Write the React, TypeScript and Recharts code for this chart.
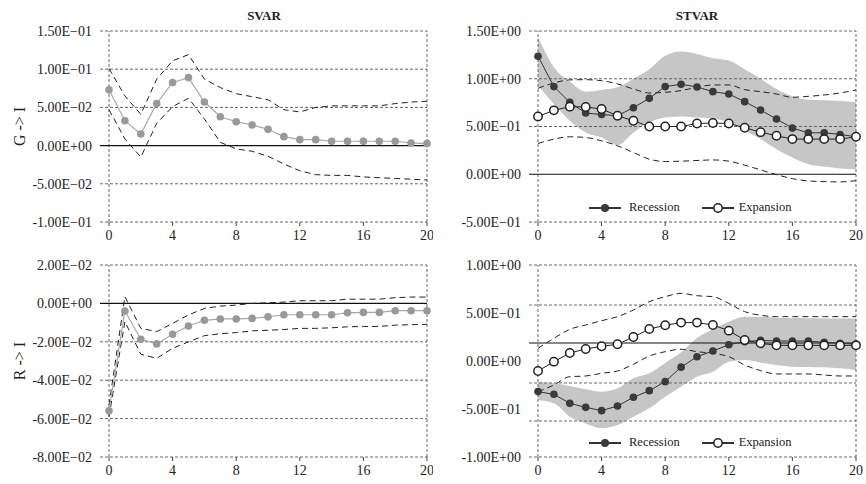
import React from "react";
import {
  ComposedChart,
  Line,
  Area,
  XAxis,
  YAxis,
  ReferenceLine,
  Legend,
} from "recharts";

const FONT = '"Liberation Serif", "Times New Roman", serif';

const horizon = [0, 1, 2, 3, 4, 5, 6, 7, 8, 9, 10, 11, 12, 13, 14, 15, 16, 17, 18, 19, 20];
const xTicks = [0, 4, 8, 12, 16, 20];

// SVAR, G -> I
const giMid = [0.073, 0.0326, 0.0152, 0.0552, 0.0826, 0.089, 0.057, 0.0378, 0.0313, 0.027, 0.0213, 0.0117, 0.0078, 0.0078, 0.0057, 0.0057, 0.0057, 0.0057, 0.0057, 0.0035, 0.0026];
const giHi = [0.101, 0.065, 0.041, 0.087, 0.111, 0.119, 0.087, 0.076, 0.068, 0.064, 0.06, 0.047, 0.044, 0.05, 0.052, 0.052, 0.052, 0.052, 0.055, 0.057, 0.058];
const giLo = [0.047, 0.0087, -0.015, 0.029, 0.051, 0.062, 0.035, 0.0043, -0.0043, -0.0074, -0.014, -0.024, -0.033, -0.038, -0.039, -0.039, -0.041, -0.042, -0.043, -0.044, -0.045];
const giTicks = [-0.1, -0.05, 0, 0.05, 0.1, 0.15];

// SVAR, R -> I
const riMid = [-0.0559, -0.004, -0.0187, -0.0211, -0.0161, -0.0118, -0.0088, -0.0081, -0.0081, -0.0078, -0.007, -0.0059, -0.0059, -0.0059, -0.0059, -0.0049, -0.0047, -0.0047, -0.0038, -0.0038, -0.0038];
const riHi = [-0.053, 0.0035, -0.013, -0.0147, -0.0104, -0.006, -0.0026, -0.0014, -0.0009, 0, 0.0003, 0.0007, 0.0014, 0.0014, 0.0014, 0.0022, 0.0022, 0.0022, 0.003, 0.0033, 0.0033];
const riLo = [-0.059, -0.0095, -0.0265, -0.0286, -0.0234, -0.02, -0.0168, -0.0158, -0.0152, -0.0143, -0.014, -0.0136, -0.013, -0.013, -0.0127, -0.0122, -0.012, -0.012, -0.0113, -0.0111, -0.0109];
const riTicks = [-0.08, -0.06, -0.04, -0.02, 0, 0.02];

// STVAR, G -> I
const gRec = [1.236, 0.918, 0.753, 0.641, 0.625, 0.613, 0.697, 0.795, 0.918, 0.942, 0.914, 0.865, 0.84, 0.76, 0.672, 0.578, 0.483, 0.434, 0.434, 0.417, 0.392];
const gExp = [0.606, 0.669, 0.708, 0.704, 0.683, 0.613, 0.56, 0.5, 0.5, 0.5, 0.532, 0.536, 0.532, 0.487, 0.441, 0.403, 0.368, 0.368, 0.368, 0.368, 0.392];
const gRecHi = [1.436, 1.12, 0.97, 0.865, 0.883, 0.91, 1.0, 1.1, 1.24, 1.285, 1.26, 1.215, 1.19, 1.1, 1.0, 0.893, 0.816, 0.78, 0.774, 0.767, 0.753];
const gRecLo = [0.928, 0.736, 0.56, 0.438, 0.385, 0.305, 0.438, 0.543, 0.595, 0.606, 0.595, 0.585, 0.543, 0.455, 0.368, 0.263, 0.175, 0.105, 0.08, 0.06, 0.053];
const gExpHi = [0.9, 0.956, 0.988, 0.99, 0.98, 0.946, 0.893, 0.851, 0.858, 0.876, 0.911, 0.935, 0.935, 0.886, 0.865, 0.84, 0.806, 0.816, 0.83, 0.851, 0.883];
const gExpLo = [0.322, 0.368, 0.392, 0.385, 0.35, 0.298, 0.228, 0.158, 0.133, 0.137, 0.144, 0.15, 0.137, 0.095, 0.046, -0.004, -0.046, -0.07, -0.077, -0.08, -0.067];
const gTicks = [-0.5, 0, 0.5, 1, 1.5];

// STVAR, R -> I
const rRec = [-0.319, -0.347, -0.441, -0.483, -0.517, -0.469, -0.378, -0.309, -0.215, -0.064, 0.045, 0.104, 0.17, 0.201, 0.215, 0.208, 0.208, 0.208, 0.194, 0.184, 0.177];
const rExp = [-0.104, -0.007, 0.083, 0.125, 0.153, 0.174, 0.25, 0.333, 0.372, 0.4, 0.4, 0.375, 0.316, 0.219, 0.184, 0.163, 0.163, 0.163, 0.163, 0.163, 0.163];
const rRecHi = [-0.215, -0.233, -0.26, -0.295, -0.32, -0.285, -0.18, -0.128, -0.02, 0.09, 0.24, 0.33, 0.41, 0.462, 0.462, 0.45, 0.447, 0.445, 0.444, 0.444, 0.444];
const rRecLo = [-0.406, -0.441, -0.58, -0.65, -0.7, -0.667, -0.58, -0.493, -0.372, -0.267, -0.163, -0.111, -0.007, 0.01, -0.017, -0.042, -0.059, -0.062, -0.066, -0.076, -0.094];
const rExpHi = [0.132, 0.236, 0.33, 0.375, 0.42, 0.462, 0.531, 0.618, 0.67, 0.705, 0.68, 0.67, 0.6, 0.514, 0.476, 0.462, 0.462, 0.462, 0.462, 0.462, 0.462];
const rExpLo = [-0.32, -0.25, -0.163, -0.156, -0.128, -0.104, -0.035, 0.052, 0.097, 0.122, 0.097, 0.08, 0.045, -0.042, -0.1, -0.135, -0.135, -0.135, -0.146, -0.156, -0.156];
const rTicks = [-1, -0.5, 0, 0.5, 1];
// the dashed grid of this panel does not sit on its tick labels in the original
const rGrid = [1, 0.583, -0.229, -0.625, -1];
const rZero = 0.1875;

const sci = (v: number) => {
  if (v === 0) return "0.00E+00";
  const e = Math.floor(Math.log10(Math.abs(v)) + 1e-9);
  const m = v / Math.pow(10, e);
  return `${m.toFixed(2)}E${e < 0 ? "\u2212" : "+"}${String(Math.abs(e)).padStart(2, "0")}`;
};

const yLabel = (text: string) => (props: any) => {
  const vb = props.viewBox || { y: 0, height: 0 };
  const cy = vb.y + vb.height / 2;
  return (
    <text
      x={19}
      y={cy}
      transform={`rotate(-90 19 ${cy})`}
      textAnchor="middle"
      dominantBaseline="central"
      fontSize={16}
      fontFamily={FONT}
      style={{ fontFamily: FONT }}
      fill="#222"
    >
      {text}
    </text>
  );
};

const gridLine = { stroke: "#666", strokeDasharray: "3 2", strokeWidth: 1 };
const tickStyle = { fill: "#222", fontSize: 14, fontFamily: FONT, style: { fontFamily: FONT } };

const LegendBox = () => (
  <div style={{ display: "flex", alignItems: "center", fontSize: 12.5, fontFamily: FONT, color: "#222", whiteSpace: "nowrap" }}>
    <svg width={32} height={12}>
      <line x1={0} y1={6} x2={32} y2={6} stroke="#333" strokeWidth={2} />
      <circle cx={16} cy={6} r={4} fill="#3a3a3a" />
    </svg>
    <span style={{ marginLeft: 8 }}>Recession</span>
    <svg width={32} height={12} style={{ marginLeft: 22 }}>
      <line x1={0} y1={6} x2={32} y2={6} stroke="#333" strokeWidth={2} />
      <circle cx={16} cy={6} r={4.2} fill="#fff" stroke="#222" strokeWidth={1.5} />
    </svg>
    <span style={{ marginLeft: 5 }}>Expansion</span>
  </div>
);

type PanelProps = {
  left: number;
  top: number;
  height: number;
  marginTop: number;
  right: boolean;
  data: any[];
  ticks: number[];
  grid: number[];
  zero: number;
  label?: string;
  legendTop?: number;
  svar: boolean;
};

function Panel(p: PanelProps) {
  const domain = [p.ticks[0], p.ticks[p.ticks.length - 1]];
  return (
    <div style={{ position: "absolute", left: p.left, top: p.top, fontFamily: FONT }}>
      <ComposedChart
        width={433}
        height={p.height}
        data={p.data}
        margin={{ top: p.marginTop, right: p.right ? 10 : 6, bottom: 0, left: 0 }}
        style={{ fontFamily: FONT }}
      >
        <XAxis
          dataKey="h"
          type="number"
          domain={[0, 20]}
          ticks={xTicks}
          padding={{ left: 9, right: 0 }}
          height={p.height - p.marginTop - (p.top === 0 ? 191 : 192)}
          axisLine={false}
          tickSize={4}
          tickMargin={4}
          tickLine={{ stroke: "#444" }}
          tick={tickStyle}
          interval={0}
        />
        <YAxis
          type="number"
          domain={domain}
          ticks={p.ticks}
          width={p.right ? 96 : 100}
          axisLine={false}
          tickLine={false}
          tick={tickStyle}
          tickFormatter={sci}
          interval={0}
          allowDataOverflow
          label={p.label ? { value: p.label, content: yLabel(p.label) } : undefined}
        />
        {!p.svar && (
          <Area
            dataKey="band"
            type="monotone"
            fill="#c6c6c6"
            fillOpacity={1}
            stroke="none"
            isAnimationActive={false}
            activeDot={false}
            legendType="none"
          />
        )}
        {p.grid.map((g) => (
          <ReferenceLine key={g} y={g} {...gridLine} />
        ))}
        <ReferenceLine x={0} {...gridLine} />
        <ReferenceLine x={20} {...gridLine} />
        <ReferenceLine y={p.zero} stroke="#111" strokeWidth={1.2} />
        <Line
          dataKey="hi"
          type={p.svar ? "linear" : "monotone"}
          stroke="#222"
          strokeWidth={1}
          strokeDasharray="6 4"
          dot={false}
          activeDot={false}
          isAnimationActive={false}
          legendType="none"
        />
        <Line
          dataKey="lo"
          type={p.svar ? "linear" : "monotone"}
          stroke="#222"
          strokeWidth={1}
          strokeDasharray="6 4"
          dot={false}
          activeDot={false}
          isAnimationActive={false}
          legendType="none"
        />
        {p.svar ? (
          <Line
            dataKey="mid"
            stroke="#a8a8a8"
            strokeWidth={1.2}
            dot={{ r: 3.8, fill: "#999", stroke: "#999", strokeWidth: 0 }}
            activeDot={false}
            isAnimationActive={false}
          />
        ) : null}
        {!p.svar && (
          <Line
            dataKey="rec"
            name="Recession"
            stroke="#333"
            strokeWidth={1}
            dot={{ r: 3.8, fill: "#3a3a3a", stroke: "#3a3a3a", strokeWidth: 0 }}
            activeDot={false}
            isAnimationActive={false}
          />
        )}
        {!p.svar && (
          <Line
            dataKey="exp"
            name="Expansion"
            stroke="#222"
            strokeWidth={1}
            dot={{ r: 4.2, fill: "#fff", stroke: "#222", strokeWidth: 1.5 }}
            activeDot={false}
            isAnimationActive={false}
          />
        )}
        {p.legendTop !== undefined && (
          <Legend
            layout="horizontal"
            align="center"
            verticalAlign="middle"
            wrapperStyle={{ left: 156, top: p.legendTop, width: 260 }}
            content={() => <LegendBox />}
          />
        )}
      </ComposedChart>
    </div>
  );
}

const svarRows = (mid: number[], hi: number[], lo: number[]) =>
  horizon.map((h, i) => ({ h, mid: mid[i], hi: hi[i], lo: lo[i] }));

const stvarRows = (rec: number[], exp: number[], bHi: number[], bLo: number[], hi: number[], lo: number[]) =>
  horizon.map((h, i) => ({ h, rec: rec[i], exp: exp[i], band: [bLo[i], bHi[i]], hi: hi[i], lo: lo[i] }));

const titleStyle: React.CSSProperties = {
  position: "absolute",
  top: 8,
  width: 120,
  textAlign: "center",
  fontFamily: FONT,
  fontWeight: "bold",
  fontSize: 13,
  color: "#222",
};

export default function App() {
  return (
    <div style={{ position: "absolute", left: 0, top: 0, width: 866, height: 484, background: "#fff", fontFamily: FONT }}>
      <div style={{ ...titleStyle, left: 204 }}>SVAR</div>
      <div style={{ ...titleStyle, left: 637 }}>STVAR</div>
      <Panel
        left={0}
        top={0}
        height={250}
        marginTop={31}
        right={false}
        svar
        data={svarRows(giMid, giHi, giLo)}
        ticks={giTicks}
        grid={[-0.1, -0.05, 0.05, 0.1, 0.15]}
        zero={0}
        label="G -> I"
      />
      <Panel
        left={433}
        top={0}
        height={250}
        marginTop={31}
        right
        svar={false}
        data={stvarRows(gRec, gExp, gRecHi, gRecLo, gExpHi, gExpLo)}
        ticks={gTicks}
        grid={[-0.5, 0.5, 1, 1.5]}
        zero={0}
        legendTop={200}
      />
      <Panel
        left={0}
        top={242}
        height={242}
        marginTop={23}
        right={false}
        svar
        data={svarRows(riMid, riHi, riLo)}
        ticks={riTicks}
        grid={[-0.08, -0.06, -0.04, -0.02, 0.02]}
        zero={0}
        label="R -> I"
      />
      <Panel
        left={433}
        top={242}
        height={242}
        marginTop={23}
        right
        svar={false}
        data={stvarRows(rRec, rExp, rRecHi, rRecLo, rExpHi, rExpLo)}
        ticks={rTicks}
        grid={rGrid}
        zero={rZero}
        legendTop={193}
      />
    </div>
  );
}
